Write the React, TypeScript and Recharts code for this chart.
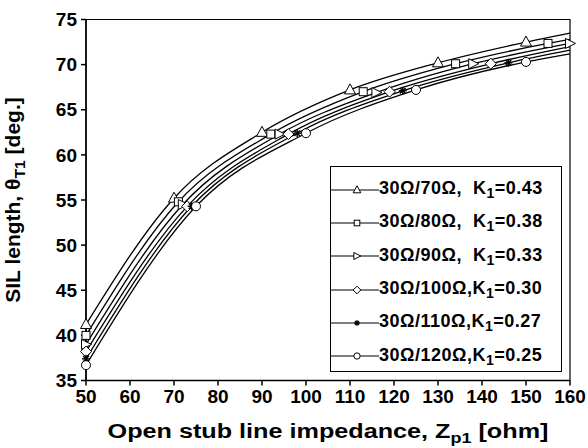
import React from 'react';
import { LineChart, Line, XAxis, YAxis, Legend, ReferenceArea } from 'recharts';

// impedance axis (ohm) and SIL length axis (deg.)
const xTicks = [50, 60, 70, 80, 90, 100, 110, 120, 130, 140, 150, 160];
const yTicks = [35, 40, 45, 50, 55, 60, 65, 70, 75];

// values read at the marker positions (+ curve end at 160)
const triX = [50, 70, 90, 110, 130, 150, 160];
const triY = [41.2, 55.2, 62.5, 67.2, 70.2, 72.5, 73.5];
const sqX = [50, 71, 92, 113, 134, 155, 160];
const sqY = [40.0, 54.8, 62.3, 67.0, 70.1, 72.35, 72.8];
const rtX = [50, 72, 94, 116, 138, 160];
const rtY = [39.0, 54.5, 62.3, 66.9, 70.1, 72.35];
const diaX = [50, 73, 96, 119, 142, 160];
const diaY = [38.2, 54.3, 62.3, 67.0, 70.1, 72.0];
const starX = [50, 74, 98, 122, 146, 160];
const starY = [37.4, 54.3, 62.4, 67.1, 70.2, 71.6];
const circX = [50, 75, 100, 125, 150, 160];
const circY = [36.7, 54.3, 62.4, 67.2, 70.3, 71.2];

const ratios = ['30Ω/70Ω,  K', '30Ω/80Ω,  K', '30Ω/90Ω,  K', '30Ω/100Ω,K', '30Ω/110Ω,K', '30Ω/120Ω,K'];
const kValues = ['0.43', '0.38', '0.33', '0.30', '0.27', '0.25'];
const markerSteps = [20, 21, 22, 23, 24, 25];
const shapes = ['triangle', 'square', 'right', 'diamond', 'star', 'circle'];

const toPoints = (xs: number[], ys: number[]) => xs.map((x, i) => ({ x, y: ys[i] }));
const seriesData = [
  toPoints(triX, triY),
  toPoints(sqX, sqY),
  toPoints(rtX, rtY),
  toPoints(diaX, diaY),
  toPoints(starX, starY),
  toPoints(circX, circY),
];

const FONT = '"Liberation Sans", Arial, sans-serif';

const Marker = ({ shape, cx, cy, s = 1 }: { shape: string; cx: number; cy: number; s?: number }) => {
  const st = { fill: '#fff', stroke: '#000', strokeWidth: 1 };
  if (shape === 'triangle')
    return <polygon points={`${cx},${cy - 6 * s} ${cx - 5.5 * s},${cy + 4 * s} ${cx + 5.5 * s},${cy + 4 * s}`} {...st} />;
  if (shape === 'square') return <rect x={cx - 4 * s} y={cy - 4 * s} width={8 * s} height={8 * s} {...st} />;
  if (shape === 'right')
    return <polygon points={`${cx + 5.5 * s},${cy} ${cx - 4.5 * s},${cy - 5 * s} ${cx - 4.5 * s},${cy + 5 * s}`} {...st} />;
  if (shape === 'diamond')
    return <polygon points={`${cx},${cy - 5.5 * s} ${cx + 5.5 * s},${cy} ${cx},${cy + 5.5 * s} ${cx - 5.5 * s},${cy}`} {...st} />;
  if (shape === 'star') {
    const r = 4 * s;
    return (
      <g stroke="#000" strokeWidth={1.4}>
        <line x1={cx - r} y1={cy} x2={cx + r} y2={cy} />
        <line x1={cx} y1={cy - r} x2={cx} y2={cy + r} />
        <line x1={cx - r * 0.7} y1={cy - r * 0.7} x2={cx + r * 0.7} y2={cy + r * 0.7} />
        <line x1={cx - r * 0.7} y1={cy + r * 0.7} x2={cx + r * 0.7} y2={cy - r * 0.7} />
      </g>
    );
  }
  return <circle cx={cx} cy={cy} r={4.5 * s} {...st} />;
};

const makeDot = (i: number) => (props: any) => {
  const { cx, cy, payload, index } = props;
  if ((payload.x - 50) % markerSteps[i] !== 0) return <g key={`d${i}-${index}`} />;
  return (
    <g key={`d${i}-${index}`}>
      <Marker shape={shapes[i]} cx={cx} cy={cy} />
    </g>
  );
};

const renderLegend = () => (
  <div
    style={{
      width: 232,
      height: 206,
      border: '1.5px solid #000',
      boxSizing: 'border-box',
      background: '#fff',
      fontFamily: FONT,
      fontWeight: 'bold',
      fontSize: 18,
      letterSpacing: 0.5,
      color: '#000',
      paddingTop: 6,
    }}
  >
    {ratios.map((r, i) => (
      <div key={r} style={{ display: 'flex', alignItems: 'center', height: 33.3, whiteSpace: 'pre' }}>
        <svg width={48} height={14} style={{ flex: 'none' }}>
          <line x1={0} y1={7} x2={48} y2={7} stroke="#000" strokeWidth={1.2} />
          <Marker shape={shapes[i]} cx={26} cy={7} s={0.7} />
        </svg>
        <span>
          {r}
          <sub style={{ fontSize: 14, verticalAlign: -4 }}>1</sub>={kValues[i]}
        </span>
      </div>
    ))}
  </div>
);

const YTitle = () => (
  <text
    transform="translate(20,200) rotate(-90) scale(1.05,1)"
    textAnchor="middle"
    fontFamily={FONT}
    fontWeight="bold"
    fontSize={20}
    fill="#000"
  >
    SIL length, θ
    <tspan dy={5} fontSize={15}>T1</tspan>
    <tspan dy={-5}> [deg.]</tspan>
  </text>
);

const XTitle = () => (
  <text
    transform="translate(328,438) scale(1.2,1)"
    textAnchor="middle"
    fontFamily={FONT}
    fontWeight="bold"
    fontSize={21}
    fill="#000"
  >
    Open stub line impedance, Z
    <tspan dy={5} fontSize={15}>p1</tspan>
    <tspan dy={-5}> [ohm]</tspan>
  </text>
);

const tickStyle = { fill: '#000', fontSize: 19, fontWeight: 'bold', fontFamily: FONT };

export default function App() {
  return (
    <div style={{ width: 588, height: 448, background: '#fff' }}>
      <style>{`body{margin:0}`}</style>
      <LineChart width={588} height={448} margin={{ top: 19.5, right: 18, bottom: 0, left: 0 }}>
        <XAxis
          dataKey="x"
          type="number"
          domain={[50, 160]}
          ticks={xTicks}
          interval={0}
          allowDuplicatedCategory={false}
          height={67.5}
          stroke="#000"
          strokeWidth={1.5}
          tickSize={5}
          tickMargin={4}
          tick={tickStyle}
          label={{ content: () => <XTitle /> }}
        />
        <YAxis
          type="number"
          domain={[35, 75]}
          ticks={yTicks}
          interval={0}
          width={86}
          stroke="#000"
          strokeWidth={1.5}
          tickSize={5}
          tickMargin={4}
          tick={tickStyle}
          label={{ content: () => <YTitle /> }}
        />
        <ReferenceArea x1={50} x2={160} y1={35} y2={75} fill="none" stroke="#000" strokeWidth={1.2} ifOverflow="visible" />
        {seriesData.map((d, i) => (
          <Line
            key={shapes[i]}
            data={d}
            dataKey="y"
            type="monotone"
            stroke="#000"
            strokeWidth={1.3}
            dot={makeDot(i)}
            activeDot={false}
            isAnimationActive={false}
            legendType="none"
          />
        ))}
        <Legend
          layout="horizontal"
          align="center"
          verticalAlign="middle"
          content={renderLegend}
          wrapperStyle={{ left: 330, top: 166, width: 232, height: 206 }}
        />
      </LineChart>
    </div>
  );
}
